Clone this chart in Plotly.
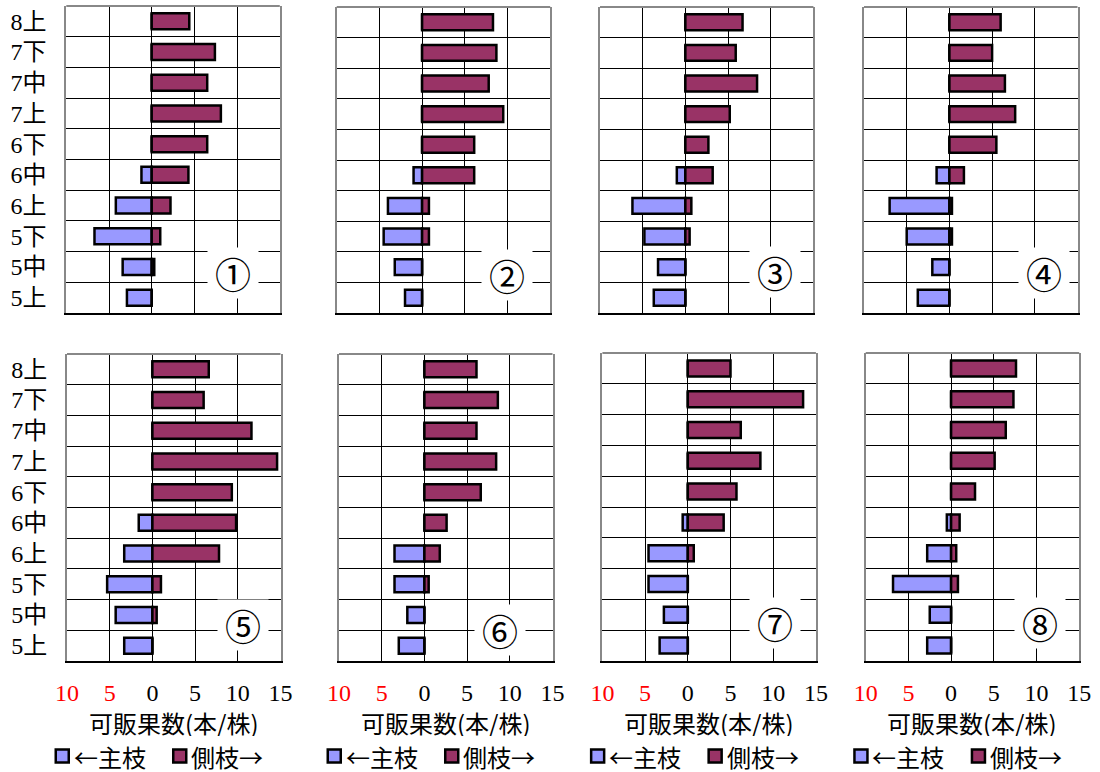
import plotly.graph_objects as go

# Fruit positions, listed top to bottom as they appear on each panel
categories = ["8上", "7下", "7中", "7上", "6下", "6中", "6上", "5下", "5中", "5上"]

# Marketable fruit per plant: main branch (drawn to the left) and side branch (to the right)
main_1 = [0, 0, 0, 0, 0, 1.2, 4.2, 6.7, 3.4, 2.9]
side_1 = [4.4, 7.4, 6.5, 8.1, 6.5, 4.3, 2.2, 1.0, 0.3, 0]
main_2 = [0, 0, 0, 0, 0, 1.0, 4.0, 4.5, 3.2, 2.0]
side_2 = [8.3, 8.7, 7.8, 9.5, 6.1, 6.1, 0.8, 0.8, 0, 0]
main_3 = [0, 0, 0, 0, 0, 1.0, 6.2, 4.8, 3.2, 3.7]
side_3 = [6.7, 5.9, 8.4, 5.2, 2.7, 3.2, 0.7, 0.5, 0, 0]
main_4 = [0, 0, 0, 0, 0, 1.5, 7.0, 5.0, 2.0, 3.7]
side_4 = [6.0, 5.0, 6.5, 7.7, 5.5, 1.7, 0.3, 0.3, 0, 0]
main_5 = [0, 0, 0, 0, 0, 1.6, 3.3, 5.3, 4.3, 3.3]
side_5 = [6.6, 6.0, 11.6, 14.6, 9.3, 9.8, 7.8, 1.0, 0.5, 0]
main_6 = [0, 0, 0, 0, 0, 0, 3.5, 3.5, 2.0, 3.0]
side_6 = [6.1, 8.6, 6.1, 8.4, 6.6, 2.6, 1.8, 0.5, 0, 0]
main_7 = [0, 0, 0, 0, 0, 0.6, 4.6, 4.6, 2.8, 3.3]
side_7 = [5.0, 13.5, 6.2, 8.5, 5.7, 4.2, 0.7, 0, 0, 0]
main_8 = [0, 0, 0, 0, 0, 0.5, 2.8, 6.8, 2.5, 2.8]
side_8 = [7.6, 7.3, 6.4, 5.1, 2.8, 1.0, 0.6, 0.8, 0, 0]

panel_labels = ["①", "②", "③", "④", "⑤", "⑥", "⑦", "⑧"]

x_tick_vals = [-10, -5, 0, 5, 10, 15]
x_tick_text = ["10", "5", "0", "5", "10", "15"]
x_tick_left_color = "#ff0000"

axis_title = "可販果数(本/株)"
legend_main = "←主枝"
legend_side = "側枝→"

mains = [main_1, main_2, main_3, main_4, main_5, main_6, main_7, main_8]
sides = [side_1, side_2, side_3, side_4, side_5, side_6, side_7, side_8]

# ---- layout constants (pixels) ----
W, H = 1100, 772
# (left, right, top, bottom) of each plotting area
PANEL_BOXES = [
    (66.3, 279.8, 6, 313), (336.7, 550.2, 7, 313),
    (600.0, 813.4, 7, 313), (864.0, 1077.5, 7, 313),
    (67.0, 280.5, 354, 661), (339.0, 552.5, 354, 661),
    (602.4, 815.9, 353, 661), (865.7, 1079.2, 353, 661),
]
# panel number badge centre inside each panel (axis-domain fractions)
LABEL_POS = [
    (0.78, 0.13), (0.796, 0.124), (0.82, 0.135), (0.844, 0.131),
    (0.824, 0.117), (0.756, 0.10), (0.808, 0.123), (0.816, 0.123),
]

MAIN_COLOR = "#9999ff"
SIDE_COLOR = "#993366"
FRAME_GRAY = "#888888"
NUM_FONT = "Liberation Serif, Noto Sans CJK JP"
CJK_FONT = "Noto Sans CJK JP"

tick_text = [
    f'<span style="color:{x_tick_left_color}">{t}</span>' if v < 0 else t
    for v, t in zip(x_tick_vals, x_tick_text)
]

fig = go.Figure()
layout = dict(
    template="none",
    width=W, height=H,
    margin=dict(l=0, r=0, t=0, b=0, autoexpand=False),
    paper_bgcolor="white", plot_bgcolor="white",
    barmode="overlay", showlegend=False,
    font=dict(family=NUM_FONT, size=24, color="black"),
)
shapes, annotations = [], []

for i, (main, side) in enumerate(zip(mains, sides)):
    n = i + 1
    sfx = "" if n == 1 else str(n)
    xa, ya = "x" + sfx, "y" + sfx
    bar_line = dict(color="black", width=2.5)
    fig.add_trace(go.Bar(
        y=categories, x=[-v for v in main], orientation="h",
        xaxis=xa, yaxis=ya, width=0.52, name=legend_main,
        marker=dict(color=MAIN_COLOR, line=bar_line),
    ))
    fig.add_trace(go.Bar(
        y=categories, x=side, orientation="h",
        xaxis=xa, yaxis=ya, width=0.52, name=legend_side,
        marker=dict(color=SIDE_COLOR, line=bar_line),
    ))

    x0, x1, yt, yb = PANEL_BOXES[i]
    bottom_row = i >= 4
    left_col = i % 4 == 0
    layout["xaxis" + sfx] = dict(
        domain=[x0 / W, x1 / W], anchor=ya, range=[-10, 15],
        automargin=False,
        tickmode="array", tickvals=x_tick_vals, ticktext=tick_text,
        showticklabels=bottom_row, ticklabelstandoff=9,
        tickfont=dict(family=NUM_FONT, size=24),
        ticks="inside", ticklen=5, tickcolor="black", tickwidth=1,
        showgrid=True, gridcolor="black", gridwidth=1, zeroline=False,
        showline=True, linecolor="black", linewidth=2,
        fixedrange=True,
    )
    layout["yaxis" + sfx] = dict(
        domain=[1 - yb / H, 1 - yt / H], anchor=xa,
        automargin=False,
        type="category", categoryorder="array", categoryarray=categories,
        autorange="reversed", tickson="boundaries",
        showgrid=True, gridcolor="black", gridwidth=1,
        ticks="", showticklabels=left_col, ticklabelstandoff=13,
        tickfont=dict(family=NUM_FONT, size=24),
        showline=True, linecolor=FRAME_GRAY, linewidth=2, mirror=True,
        fixedrange=True,
    )
    # gray top edge of the frame
    shapes.append(dict(
        type="line", xref=xa + " domain", yref=ya + " domain",
        x0=0, x1=1, y0=1, y1=1, line=dict(color=FRAME_GRAY, width=2),
        layer="above",
    ))
    # panel badge
    lx, ly = LABEL_POS[i]
    annotations.append(dict(
        text=panel_labels[i], xref=xa + " domain", yref=ya + " domain",
        x=lx, y=ly, xanchor="center", yanchor="middle",
        showarrow=False, bgcolor="white", width=48, height=48,
        font=dict(family=CJK_FONT, size=36, color="black"),
    ))

    if bottom_row:
        cx = (x0 + x1) / 2
        annotations.append(dict(
            text=axis_title, xref="paper", yref="paper",
            x=cx / W, y=1 - 722 / H, showarrow=False,
            xanchor="center", yanchor="middle", height=28,
            font=dict(family=CJK_FONT, size=24, color="black"),
        ))
        ly_c = 756
        for off, color, label in ((-111.5, MAIN_COLOR, legend_main),
                                  (6.0, SIDE_COLOR, legend_side)):
            shapes.append(dict(
                type="rect", xref="paper", yref="paper",
                x0=(cx + off - 6.5) / W, x1=(cx + off + 6.5) / W,
                y0=1 - (ly_c + 6.5) / H, y1=1 - (ly_c - 6.5) / H,
                fillcolor=color, line=dict(color="black", width=2.5),
            ))
            annotations.append(dict(
                text=label, xref="paper", yref="paper",
                x=(cx + off + 9.5) / W, y=1 - ly_c / H, showarrow=False,
                xanchor="left", yanchor="middle", height=28,
                font=dict(family=CJK_FONT, size=24, color="black"),
            ))

layout["shapes"] = shapes
layout["annotations"] = annotations
fig.update_layout(**layout)

fig.write_html("out.html")
